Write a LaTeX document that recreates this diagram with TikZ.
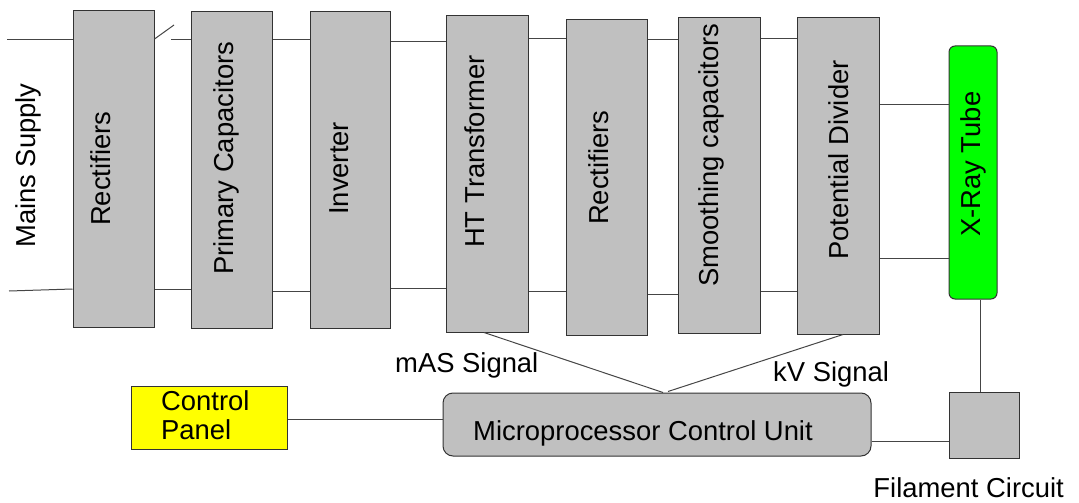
\documentclass[tikz,border=0pt]{standalone}
\usepackage{fontspec}
\setmainfont{Liberation Sans}
\usetikzlibrary{calc}
\definecolor{boxgray}{HTML}{C0C0C0}
\definecolor{edgecol}{HTML}{333333}
\definecolor{wirecol}{HTML}{454545}
\definecolor{tubegreen}{HTML}{00FF00}
\definecolor{panelyellow}{HTML}{FFFF00}
\tikzset{
  blk/.style={draw=edgecol, fill=boxgray, line width=1pt, inner sep=0pt, rectangle},
  wire/.style={draw=wirecol, line width=1pt},
  txt/.style={inner sep=0pt, font=\fontsize{27.4}{29}\selectfont},
  vtxt/.style={txt, rotate=90, anchor=base west},
}
\begin{document}
\begin{tikzpicture}[x=1pt,y=-1pt]
\useasboundingbox (0,0) rectangle (1079,503);
% helper coordinates
\coordinate (h25) at (0,25);
\coordinate (h39) at (0,39);
\coordinate (h40) at (0,40);
\coordinate (h42) at (0,42);
\coordinate (h104) at (0,104);
\coordinate (h258) at (0,258);
\coordinate (h288) at (0,288);
\coordinate (h289) at (0,289);
\coordinate (h291) at (0,291);
\coordinate (h294) at (0,294);
\coordinate (h419) at (0,419);
\coordinate (h441) at (0,441);
\coordinate (vx) at (980,0);
\coordinate (vht) at (484,0);
\coordinate (vpd) at (843,0);
% boxes
\node[blk, minimum width=81pt, minimum height=316pt] (r1) at (113.5,169) {};
\node[blk, minimum width=81pt, minimum height=316pt] (prim) at (231.5,170) {};
\node[blk, minimum width=80pt, minimum height=316pt] (inv) at (350,170) {};
\node[blk, minimum width=82pt, minimum height=316pt] (ht) at (487,174) {};
\node[blk, minimum width=81pt, minimum height=315pt] (r2) at (606.5,177.5) {};
\node[blk, minimum width=82pt, minimum height=315pt] (sm) at (719,175.5) {};
\node[blk, minimum width=82pt, minimum height=316pt] (pd) at (838,176) {};
\node[blk, fill=tubegreen, rounded corners=6pt, minimum width=48pt, minimum height=253pt] (xray) at (973,172.5) {};
\node[blk, fill=panelyellow, minimum width=156pt, minimum height=63pt] (cp) at (209,417.5) {};
\node[blk, rounded corners=10pt, minimum width=428pt, minimum height=63pt] (mcu) at (657,424.5) {};
\node[blk, minimum width=70pt, minimum height=66pt] (fil) at (984,425) {};
% texts
\node[vtxt] (mainst) at (35,248) {Mains Supply};
\node[vtxt] (r1t) at (110,226) {Rectifiers};
\node[vtxt] (primt) at (233,275) {Primary Capacitors};
\node[vtxt] (invt) at (348,215) {Inverter};
\node[vtxt] (htt) at (484.5,248) {HT Transformer};
\node[vtxt] (r2t) at (608,225) {Rectifiers};
\node[vtxt] (smt) at (718,287) {Smoothing capacitors};
\node[vtxt] (pdt) at (848,260) {Potential Divider};
\node[vtxt] (xrayt) at (980,237) {X-Ray Tube};
\node[txt, align=left, anchor=west] (cpt) at (161,415) {Control\\Panel};
\node[txt, anchor=base west] (mcut) at (473,440) {Microprocessor Control Unit};
\node[txt, anchor=base west] (mast) at (395,372) {mAS Signal};
\node[txt, anchor=base west] (kvt) at (773,381) {kV Signal};
\node[txt, anchor=base east] (filt) at (1064,497) {Filament Circuit};
% connectors
\coordinate (ms1) at (7,40);
\coordinate (ms2) at (9,291);
\coordinate (sw) at (174,25);
\coordinate (sw2) at (171,40);
\draw[wire] (ms1) -- (r1.west |- ms1);
\draw[wire] (ms2) -- (r1.west |- h289);
\draw[wire] (r1.east |- h39) -- (sw);
\draw[wire] (sw2) -- (prim.west |- sw2);
\draw[wire] (r1.east |- h289) -- (prim.west |- h289);
\draw[wire] (prim.east |- h40) -- (inv.west |- h40);
\draw[wire] (prim.east |- h291) -- (inv.west |- h291);
\draw[wire] (inv.east |- h42) -- (ht.west |- h42);
\draw[wire] (inv.east |- h288) -- (ht.west |- h288);
\draw[wire] (ht.east |- h39) -- (r2.west |- h39);
\draw[wire] (ht.east |- h291) -- (r2.west |- h291);
\draw[wire] (r2.east |- h40) -- (sm.west |- h40);
\draw[wire] (r2.east |- h294) -- (sm.west |- h294);
\draw[wire] (sm.east |- h39) -- (pd.west |- h39);
\draw[wire] (sm.east |- h291) -- (pd.west |- h291);
\draw[wire] (pd.east |- h104) -- (xray.west |- h104);
\draw[wire] (pd.east |- h258) -- (xray.west |- h258);
\draw[wire] (xray.south -| vx) -- (fil.north -| vx);
\draw[wire] (cp.east |- h419) -- (mcu.west |- h419);
\draw[wire] (mcu.east |- h441) -- (fil.west |- h441);
\draw[wire] (ht.south -| vht) -- ($(mcu.north)+(6,0)$);
\draw[wire] (pd.south -| vpd) -- ($(mcu.north)+(11,-1)$);
\end{tikzpicture}
\end{document}
